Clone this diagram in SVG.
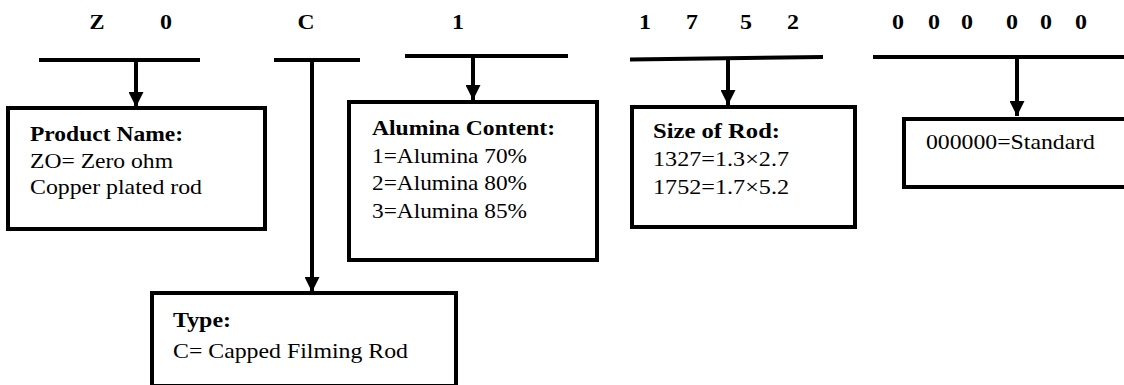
<svg xmlns="http://www.w3.org/2000/svg" width="1124" height="385" viewBox="0 0 1124 385">
<style>
.hd{font-family:"Liberation Serif","Times New Roman",Times,serif;font-weight:bold;font-size:22px;fill:#000;text-anchor:middle}
.t{font-family:"Liberation Serif","Times New Roman",Times,serif;font-size:21px;fill:#000}
.b{font-weight:bold}
.box{fill:#fff;stroke:#000;stroke-width:4}
.ln{stroke:#000;stroke-width:4;fill:none}
</style>
<defs>
<marker id="ah" markerUnits="userSpaceOnUse" markerWidth="16" markerHeight="15" refX="15" refY="7.5" orient="auto">
<path d="M0,0 L15,7.5 L0,15 z" fill="#000"/>
</marker>
</defs>
<g id="header">
<text class="hd" x="97" y="29" textLength="15" lengthAdjust="spacingAndGlyphs">Z</text>
<text class="hd" x="166" y="29" textLength="12" lengthAdjust="spacingAndGlyphs">0</text>
<text class="hd" x="306" y="29" textLength="17" lengthAdjust="spacingAndGlyphs">C</text>
<text class="hd" x="458" y="29" textLength="12" lengthAdjust="spacingAndGlyphs">1</text>
<text class="hd" x="645" y="29" textLength="12" lengthAdjust="spacingAndGlyphs">1</text>
<text class="hd" x="692" y="29" textLength="12" lengthAdjust="spacingAndGlyphs">7</text>
<text class="hd" x="746" y="29" textLength="12" lengthAdjust="spacingAndGlyphs">5</text>
<text class="hd" x="793" y="29" textLength="12" lengthAdjust="spacingAndGlyphs">2</text>
<text class="hd" x="898" y="29" textLength="12" lengthAdjust="spacingAndGlyphs">0</text>
<text class="hd" x="934" y="29" textLength="12" lengthAdjust="spacingAndGlyphs">0</text>
<text class="hd" x="967" y="29" textLength="12" lengthAdjust="spacingAndGlyphs">0</text>
<text class="hd" x="1012" y="29" textLength="12" lengthAdjust="spacingAndGlyphs">0</text>
<text class="hd" x="1046" y="29" textLength="12" lengthAdjust="spacingAndGlyphs">0</text>
<text class="hd" x="1081" y="29" textLength="12" lengthAdjust="spacingAndGlyphs">0</text>
</g>
<g id="connectors">
<line class="ln" x1="39" y1="60" x2="200" y2="60"/>
<line class="ln" x1="274" y1="60" x2="360" y2="60"/>
<line class="ln" x1="405" y1="56" x2="568" y2="56"/>
<line class="ln" x1="630" y1="59.5" x2="823" y2="57"/>
<line class="ln" x1="873" y1="57" x2="1124" y2="57"/>
<line class="ln" x1="136" y1="60" x2="136" y2="107" marker-end="url(#ah)"/>
<line class="ln" x1="312" y1="60" x2="312" y2="292" marker-end="url(#ah)"/>
<line class="ln" x1="473" y1="56" x2="473" y2="100" marker-end="url(#ah)"/>
<line class="ln" x1="728" y1="59" x2="728" y2="105" marker-end="url(#ah)"/>
<line class="ln" x1="1017" y1="57" x2="1017" y2="116" marker-end="url(#ah)"/>
</g>
<g id="product-name">
<rect class="box" x="8" y="108" width="257" height="121"/>
<text class="t b" x="30" y="141" textLength="153" lengthAdjust="spacingAndGlyphs">Product Name:</text>
<text class="t" x="30" y="168" textLength="143" lengthAdjust="spacingAndGlyphs">ZO= Zero ohm</text>
<text class="t" x="30" y="194" textLength="172" lengthAdjust="spacingAndGlyphs">Copper plated rod</text>
</g>
<g id="alumina">
<rect class="box" x="349" y="102" width="248" height="158"/>
<text class="t b" x="372" y="135" textLength="183" lengthAdjust="spacingAndGlyphs">Alumina Content:</text>
<text class="t" x="372" y="163" textLength="155" lengthAdjust="spacingAndGlyphs">1=Alumina 70%</text>
<text class="t" x="372" y="190" textLength="155" lengthAdjust="spacingAndGlyphs">2=Alumina 80%</text>
<text class="t" x="372" y="218" textLength="155" lengthAdjust="spacingAndGlyphs">3=Alumina 85%</text>
</g>
<g id="size">
<rect class="box" x="632" y="107" width="223" height="120"/>
<text class="t b" x="653" y="138" textLength="127" lengthAdjust="spacingAndGlyphs">Size of Rod:</text>
<text class="t" x="653" y="166" textLength="136" lengthAdjust="spacingAndGlyphs">1327=1.3×2.7</text>
<text class="t" x="653" y="194" textLength="136" lengthAdjust="spacingAndGlyphs">1752=1.7×5.2</text>
</g>
<g id="standard">
<rect class="box" x="904" y="119" width="230" height="68"/>
<text class="t" x="926" y="149" textLength="169" lengthAdjust="spacingAndGlyphs">000000=Standard</text>
</g>
<g id="type">
<rect class="box" x="152" y="293" width="304" height="93"/>
<text class="t b" x="173" y="327" textLength="58" lengthAdjust="spacingAndGlyphs">Type:</text>
<text class="t" x="173" y="358" textLength="235" lengthAdjust="spacingAndGlyphs">C= Capped Filming Rod</text>
</g>
</svg>
